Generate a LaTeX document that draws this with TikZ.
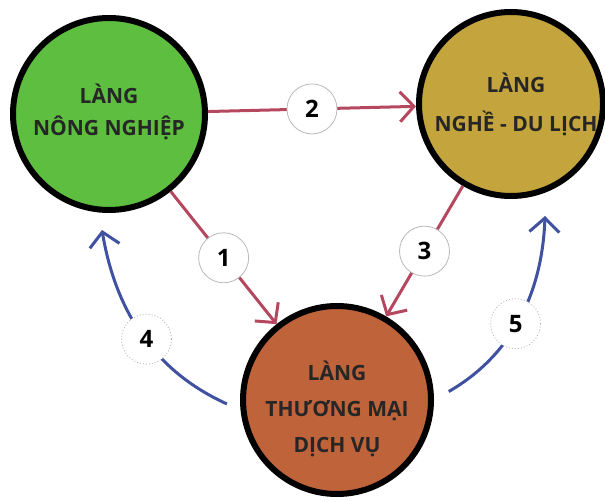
\documentclass[tikz,border=0pt]{standalone}
\usepackage{fontspec}
\setmainfont{Open Sans}
\usetikzlibrary{arrows.meta}

\definecolor{farmgreen}{HTML}{5DBE3F}
\definecolor{craftgold}{HTML}{C4A43C}
\definecolor{tradeorange}{HTML}{BF633B}
\definecolor{linkred}{HTML}{B5475F}
\definecolor{linkblue}{HTML}{3F51A0}

\begin{document}
\begin{tikzpicture}[x=1pt,y=1pt,
  village/.style={circle,draw=black,line width=6pt,inner sep=0pt},
  vtext/.style={align=center,text=black!85,font=\fontsize{21}{36}\selectfont\bfseries},
  num/.style={circle,fill=white,draw=gray!55,line width=0.8pt,text=black,
    minimum size=50pt,inner sep=0pt,font=\fontsize{24}{26}\selectfont\bfseries},
  numdot/.style={num,dash pattern=on 1pt off 2pt},
  flow/.style={line width=3pt,color=linkred,-{Straight Barb[length=14pt,width=30pt]}},
  back/.style={flow,color=linkblue}]
  \useasboundingbox (0,0) rectangle (605,501);

  % Coordinates
  \coordinate (up4) at (102,271);
  \coordinate (up5) at (545,285);

  % Villages
  \node[village,fill=farmgreen,minimum size=192pt,
    label={[vtext,yshift=2pt]center:LÀNG\\[-4pt]NÔNG NGHIỆP}] (green) at (109,387) {};
  \node[village,fill=craftgold,minimum size=184pt,
    label={[vtext,xshift=5pt]center:LÀNG\\[3pt]NGHỀ - DU LỊCH}] (gold) at (511,397) {};
  \node[village,fill=tradeorange,minimum size=188pt,
    label={[vtext,yshift=-9pt]center:LÀNG\\THƯƠNG MẠI\\DỊCH VỤ}] (orange) at (337,101) {};

  % Drawing
  \draw[flow] (green) -- node[num] {2} (gold);
  \draw[flow] (green) -- node[num] {1} (orange);
  \draw[flow] (gold) -- node[num] {3} (orange);
  \draw[back,shorten <=15pt] (orange.186) to[bend left=28] node[numdot] {4} (up4);
  \draw[back,shorten <=17pt] (orange.east) to[bend right=29] node[numdot] {5} (up5);
\end{tikzpicture}
\end{document}
